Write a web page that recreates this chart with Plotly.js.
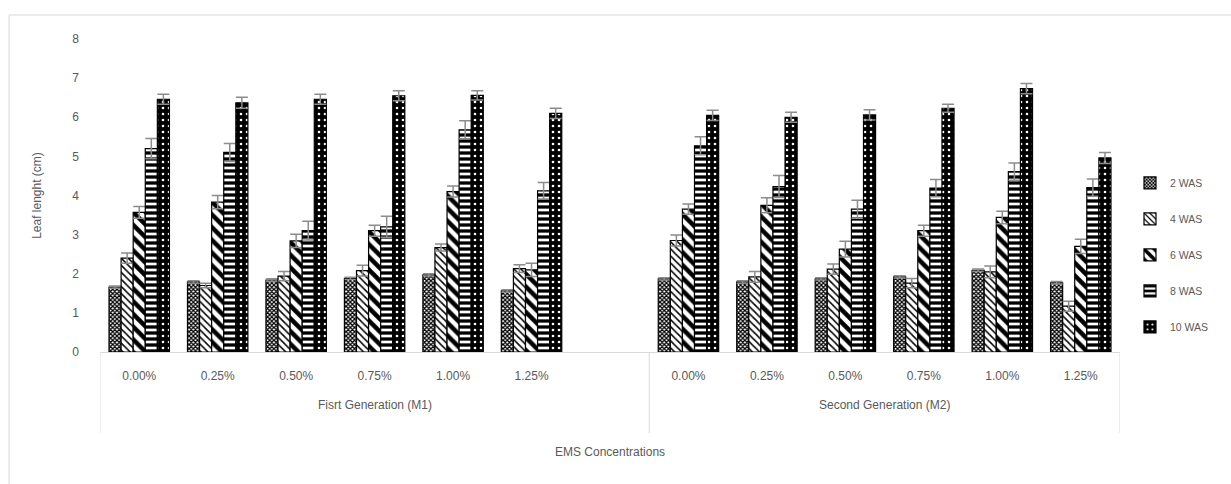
<!DOCTYPE html>
<html>
<head>
<meta charset="utf-8">
<script src="https://cdn.plot.ly/plotly-3.0.1.min.js"></script>
<style>html,body{margin:0;padding:0;background:#fff;}#chart{width:1231px;height:484px;}</style>
</head>
<body>
<div id="chart"></div>
<script>
// ---- data ----
const generations = ["Fisrt Generation (M1)", "Second Generation (M2)"];
const genKeys = ["M1", "M2"];
const concentrations = ["0.00%", "0.25%", "0.50%", "0.75%", "1.00%", "1.25%"];
const seriesNames = ["2 WAS", "4 WAS", "6 WAS", "8 WAS", "10 WAS"];

const was2_M1 = [1.66, 1.79, 1.84, 1.88, 1.97, 1.56];
const was2_M2 = [1.87, 1.79, 1.87, 1.92, 2.09, 1.77];
const err2_M1 = [0.03, 0.03, 0.03, 0.03, 0.03, 0.03];
const err2_M2 = [0.03, 0.03, 0.03, 0.03, 0.03, 0.03];

const was4_M1 = [2.40, 1.70, 1.94, 2.08, 2.67, 2.13];
const was4_M2 = [2.85, 1.92, 2.12, 1.76, 2.05, 1.17];
const err4_M1 = [0.13, 0.06, 0.12, 0.14, 0.09, 0.10];
const err4_M2 = [0.14, 0.14, 0.13, 0.12, 0.15, 0.13];

const was6_M1 = [3.57, 3.83, 2.84, 3.10, 4.10, 2.10];
const was6_M2 = [3.65, 3.75, 2.63, 3.10, 3.44, 2.70];
const err6_M1 = [0.15, 0.17, 0.17, 0.14, 0.14, 0.17];
const err6_M2 = [0.13, 0.19, 0.20, 0.14, 0.16, 0.18];

const was8_M1 = [5.20, 5.10, 3.10, 3.20, 5.68, 4.12];
const was8_M2 = [5.27, 4.23, 3.65, 4.19, 4.61, 4.20];
const err8_M1 = [0.26, 0.23, 0.24, 0.27, 0.23, 0.21];
const err8_M2 = [0.23, 0.28, 0.23, 0.22, 0.22, 0.22];

const was10_M1 = [6.46, 6.37, 6.46, 6.55, 6.56, 6.10];
const was10_M2 = [6.05, 6.00, 6.06, 6.23, 6.73, 4.96];
const err10_M1 = [0.13, 0.14, 0.13, 0.13, 0.12, 0.13];
const err10_M2 = [0.13, 0.13, 0.13, 0.10, 0.13, 0.14];

// ---- categories: M1 block (6 + one blank slot, as in the original) then M2 block ----
const cats = [], catText = [];
concentrations.forEach(c => { cats.push(genKeys[0] + " " + c); catText.push(c); });
cats.push(genKeys[0] + " blank"); catText.push("");
concentrations.forEach(c => { cats.push(genKeys[1] + " " + c); catText.push(c); });

function join(a, b) { return a.concat([null], b); }

const values = [
  join(was2_M1, was2_M2), join(was4_M1, was4_M2), join(was6_M1, was6_M2),
  join(was8_M1, was8_M2), join(was10_M1, was10_M2)
];
const errors = [
  join(err2_M1, err2_M2), join(err4_M1, err4_M2), join(err6_M1, err6_M2),
  join(err8_M1, err8_M2), join(err10_M1, err10_M2)
];

const patterns = [
  {shape: "x", fgcolor: "#000", bgcolor: "#fff", size: 3, solidity: 0.65, fillmode: "replace"},
  {shape: "\\", fgcolor: "#000", bgcolor: "#fff", size: 5, solidity: 0.3, fillmode: "replace"},
  {shape: "\\", fgcolor: "#000", bgcolor: "#fff", size: 9, solidity: 0.5, fillmode: "replace"},
  {shape: "-", fgcolor: "#fff", bgcolor: "#000", size: 6, solidity: 0.45, fillmode: "replace"},
  {shape: ".", fgcolor: "#fff", bgcolor: "#000", size: 6, solidity: 0.15, fillmode: "replace"}
];

const traces = seriesNames.map((name, i) => ({
  type: "bar",
  name: name,
  x: cats,
  y: values[i],
  legendgroup: "g" + i,
  marker: {color: "#000", pattern: patterns[i], line: {color: "#000", width: 1.2}},
  error_y: {type: "data", array: errors[i], visible: true, color: "#8c8c8c", thickness: 1.5, width: 6},
  hoverinfo: "y+name"
}));

const nM1 = concentrations.length + 1;  // including blank slot
const nAll = cats.length;
const lineCol = "#d9d9d9";
const txtCol = "#595959";
const fontFam = "Liberation Sans, Arial, sans-serif";

const layout = {
  width: 1231, height: 484,
  margin: {l: 100, r: 111, t: 39, b: 132, autoexpand: false},
  paper_bgcolor: "#fff", plot_bgcolor: "#fff",
  font: {family: fontFam, size: 12, color: txtCol},
  barmode: "group",
  bargap: 0.23, bargroupgap: 0,
  showlegend: true,
  legend: {x: 1.0098, y: 0.31, xanchor: "left", yanchor: "middle",
           font: {size: 10.5, color: txtCol}, tracegroupgap: 17, itemwidth: 30,
           bgcolor: "rgba(0,0,0,0)"},
  xaxis: {
    type: "category", categoryorder: "array", categoryarray: cats,
    range: [-0.5, nAll - 0.5],
    tickmode: "array", tickvals: cats, ticktext: catText,
    showline: true, linecolor: lineCol, linewidth: 1,
    ticks: "", showgrid: false, zeroline: false,
    tickfont: {size: 12, color: txtCol}, ticklabelstandoff: 13
  },
  yaxis: {
    range: [0, 8], dtick: 1, showgrid: false, zeroline: false, showline: false, ticks: "",
    tickfont: {size: 12, color: txtCol}, ticklabelstandoff: 20,
    title: {text: "Leaf lenght (cm)", font: {size: 12, color: txtCol}, standoff: 28}
  },
  annotations: [
    {xref: "x", yref: "paper", x: (nM1 - 1) / 2, y: -0.169, text: generations[0], showarrow: false,
     xanchor: "center", yanchor: "middle", font: {size: 12, color: txtCol}},
    {xref: "x", yref: "paper", x: nM1 + (nAll - nM1 - 1) / 2, y: -0.169, text: generations[1], showarrow: false,
     xanchor: "center", yanchor: "middle", font: {size: 12, color: txtCol}},
    {xref: "paper", yref: "paper", x: 0.5, y: -0.319, text: "EMS Concentrations", showarrow: false,
     xanchor: "center", yanchor: "middle", font: {size: 12, color: txtCol}}
  ],
  shapes: [
    {type: "line", xref: "x", yref: "paper", x0: -0.5, x1: -0.5, y0: 0, y1: -0.259, line: {color: lineCol, width: 1}},
    {type: "line", xref: "x", yref: "paper", x0: nM1 - 0.5, x1: nM1 - 0.5, y0: 0, y1: -0.259, line: {color: lineCol, width: 1}},
    {type: "line", xref: "x", yref: "paper", x0: nAll - 0.5, x1: nAll - 0.5, y0: 0, y1: -0.259, line: {color: lineCol, width: 1}},
    {type: "rect", xref: "paper", yref: "paper", x0: -0.0892, x1: 1.3, y0: -0.7, y1: 1.0767,
     line: {color: lineCol, width: 1}, fillcolor: "rgba(0,0,0,0)", layer: "below"}
  ]
};

Plotly.newPlot("chart", traces, layout, {displayModeBar: false, staticPlot: true});
</script>
</body>
</html>
